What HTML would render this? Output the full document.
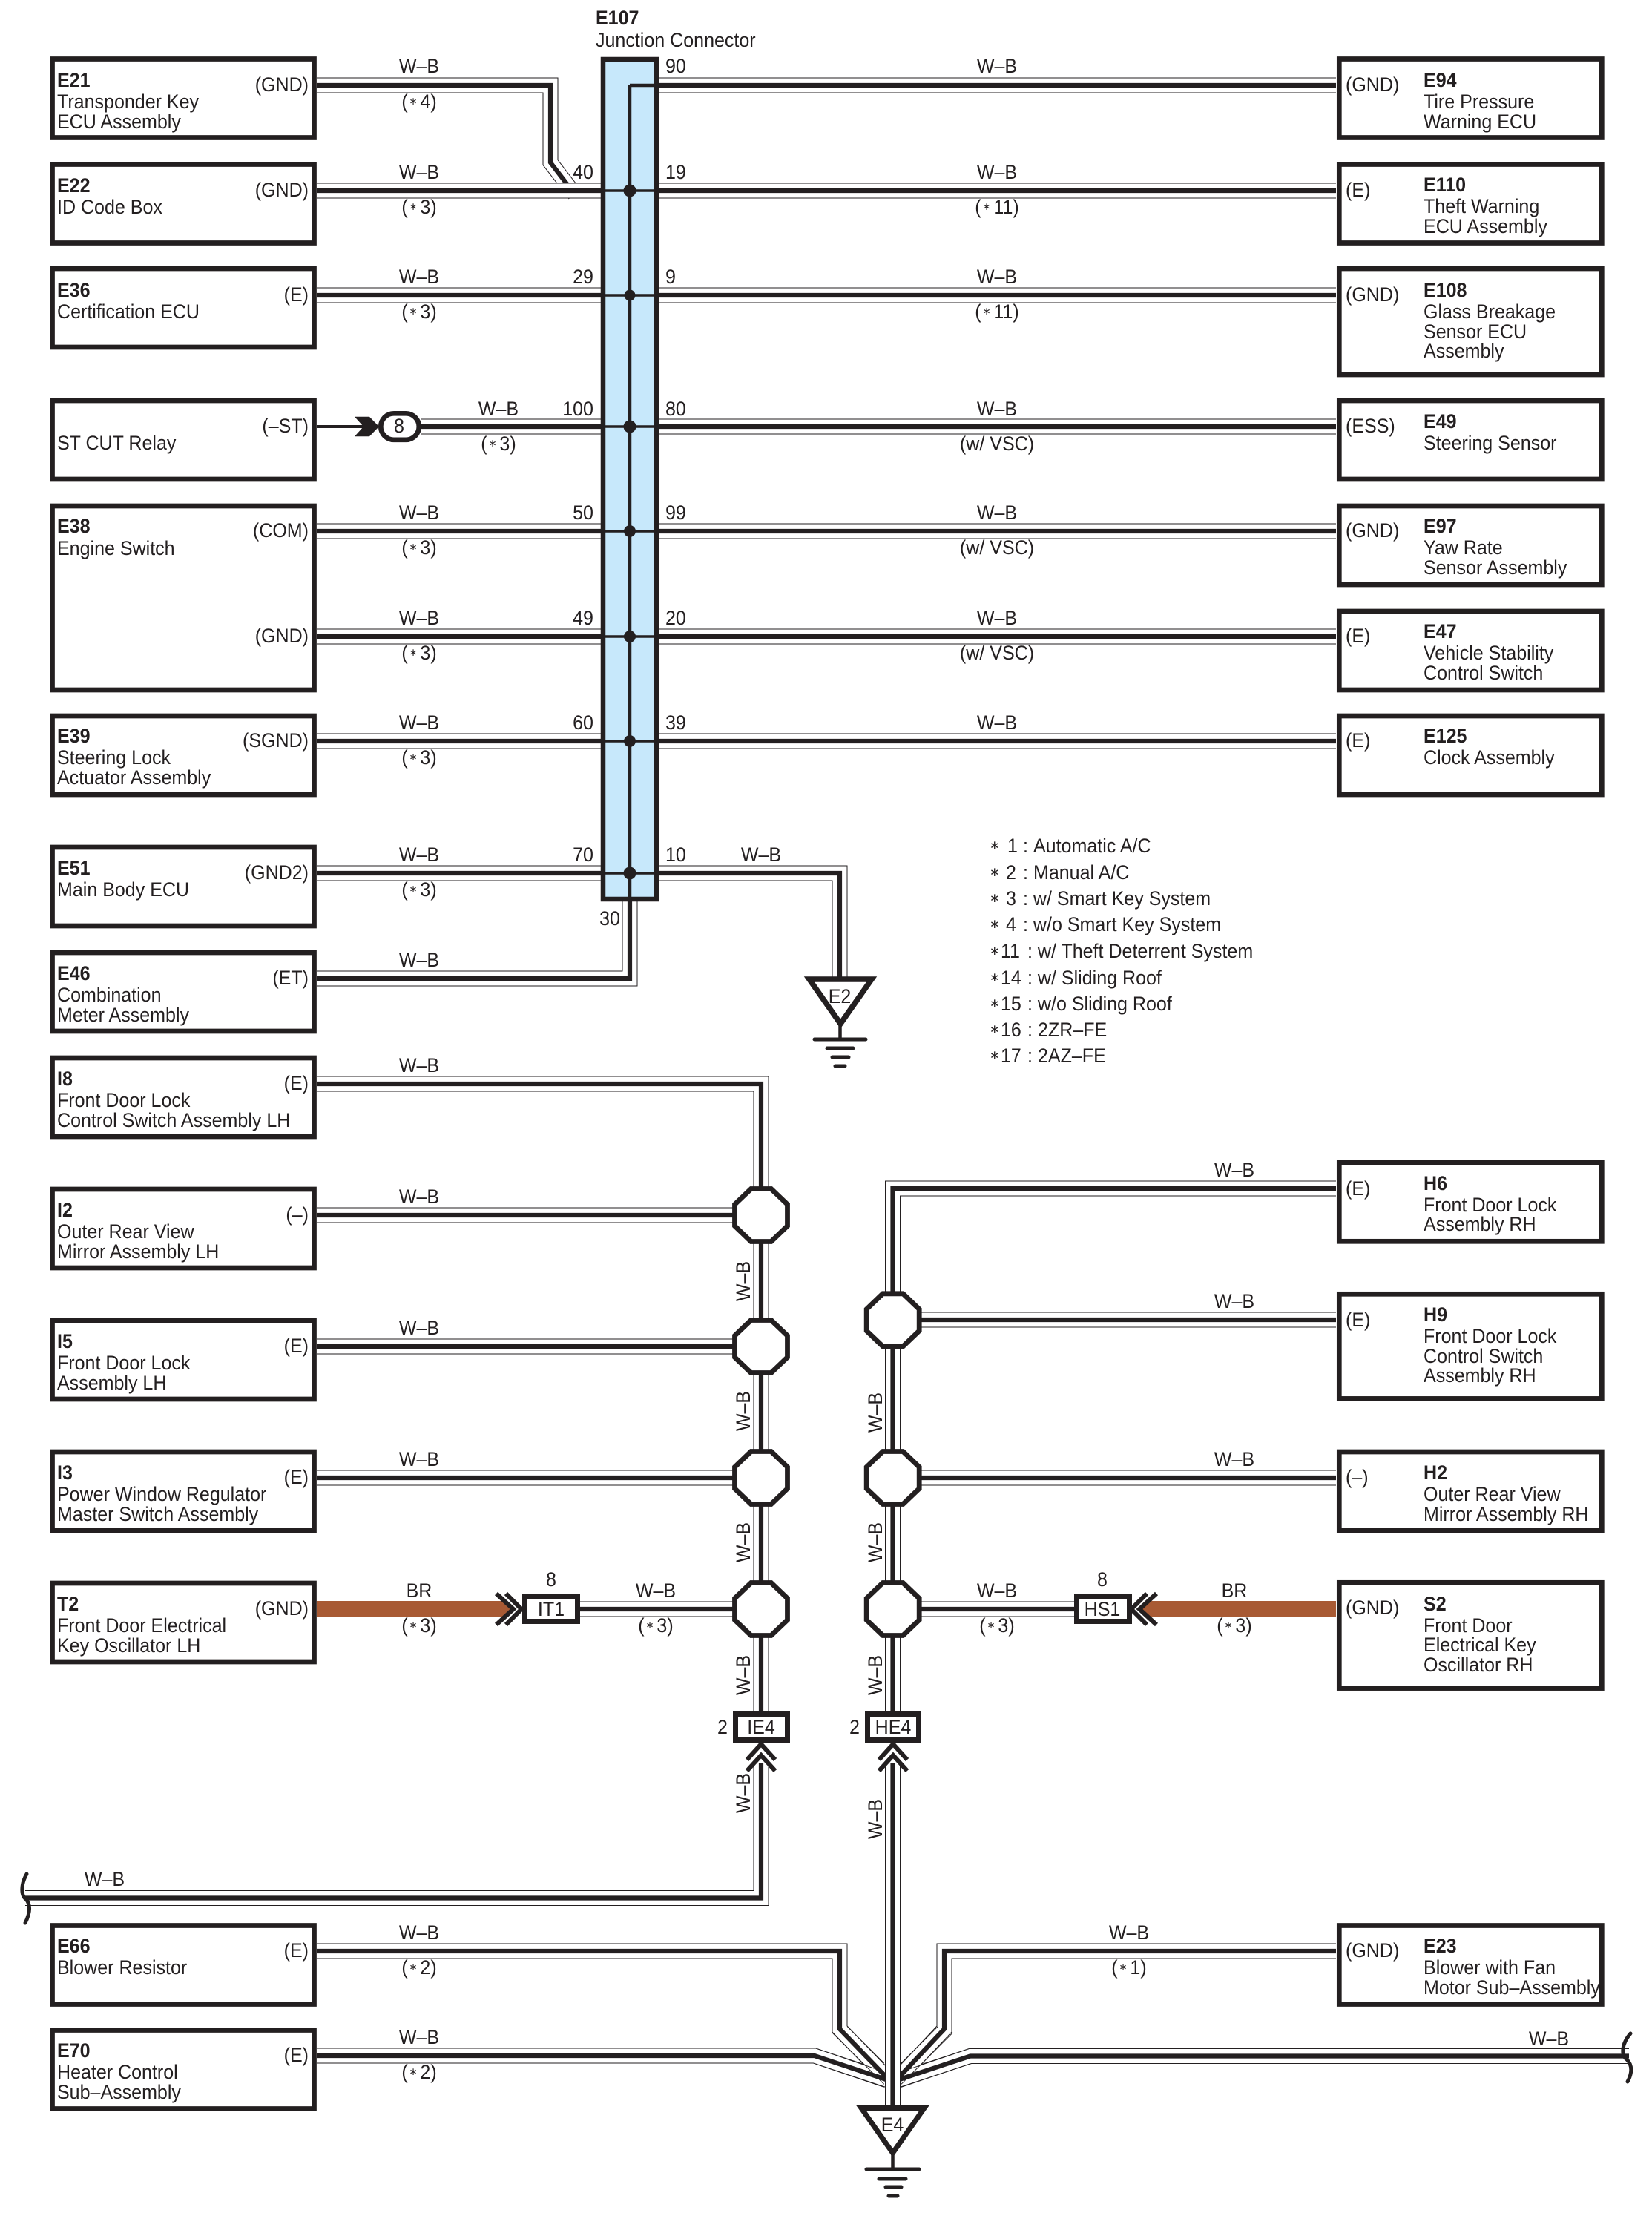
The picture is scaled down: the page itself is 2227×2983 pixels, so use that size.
<!DOCTYPE html>
<html><head><meta charset="utf-8"><title>E107 Junction Connector wiring diagram</title>
<style>
html,body{margin:0;padding:0;background:#fff}
svg{display:block}
text{font-family:"Liberation Sans",sans-serif;font-size:26.5px;fill:#231f20;transform-box:fill-box;transform:scaleX(.945);transform-origin:0 0}
.m{text-anchor:middle;transform-origin:50% 0}
.e{text-anchor:end;transform-origin:100% 0}
.b{font-weight:bold}
.a{font-size:14px;letter-spacing:4px;baseline-shift:5px}
.s{font-size:17px;baseline-shift:4px}
.o{fill:none;stroke:#231f20;stroke-width:21;stroke-linejoin:miter}
.w{fill:none;stroke:#fff;stroke-width:19;stroke-linejoin:miter}
.c{fill:none;stroke:#231f20;stroke-width:6.2;stroke-linejoin:miter}
.bx{fill:#fff;stroke:#231f20;stroke-width:6.7}
.l{fill:none;stroke:#231f20}
</style></head><body>
<svg xmlns="http://www.w3.org/2000/svg" width="2227" height="2983" viewBox="0 0 2227 2983">
<defs>
<path id="a" d="M427 115H742V219L775 262"/>
<path id="b" d="M427 257H810M427 398H810M568 575H810M427 716H810M427 858H810M427 999H810M427 1177H810M888 115H1801M888 257H1801M888 398H1801M888 575H1801M888 716H1801M888 858H1801M888 999H1801M888 1177H1132V1320M427 1319H849V1215M427 1461H1026V2307M427 1638H1026M427 1815H1026M427 1992H1026M782 2169H1026M1204 1779H1801M1204 1992H1801M1241 2169H1448M1026 2376V2558.5H34"/>
<path id="d" d="M427 2771H1098L1203.5 2806M2196 2771.5H1308L1203.5 2806"/>
<path id="f" d="M427 2630H1132V2735L1203.5 2809M1801 2630H1273V2735L1203.5 2809"/>
<path id="g" d="M1801 1602H1203.5V2307M1203.5 2376V2842"/>
<polygon id="oct" points="-13.6,-35.5 13.6,-35.5 35.5,-14.6 35.5,14.6 13.6,35.5 -13.6,35.5 -35.5,14.6 -35.5,-14.6"/>
</defs>

<!-- wires -->
<use href="#a" class="o"/><use href="#a" class="w"/><use href="#a" class="c"/>
<use href="#b" class="o"/><use href="#b" class="w"/><use href="#b" class="c"/>
<use href="#d" class="o"/><use href="#f" class="o"/><use href="#d" class="w"/><use href="#f" class="w"/>
<path class="l" stroke-width="1" d="M1142.3 2731.7L1191.7 2781M1122.7 2740.7L1191.7 2809.3M1101.7 2761.7L1191.7 2792.7M1098.3 2781.7L1191.7 2813.3M1264.3 2731.7L1215 2781M1284.3 2740L1215 2809.3M1306 2761.7L1215 2792.7M1308.3 2781.7L1215 2813.3"/>
<use href="#d" class="c"/><use href="#f" class="c"/>
<use href="#g" class="o"/><use href="#g" class="w"/><use href="#g" class="c"/>

<!-- brown wires -->
<polygon points="427,2158 682,2158 692,2169 682,2180 427,2180" fill="#a85a34"/>
<polygon points="1801,2158 1546,2158 1536,2169 1546,2180 1801,2180" fill="#a85a34"/>

<!-- junction connector -->
<rect x="813" y="80" width="72" height="1132" fill="#c7e8fb" stroke="#231f20" stroke-width="6.5"/>
<path class="l" stroke-width="4.5" d="M849 115V1215M849 115H888"/>
<path class="l" stroke-width="3.5" d="M810 257H888M810 398H888M810 575H888M810 716H888M810 858H888M810 999H888M810 1177H888"/>
<g fill="#231f20"><circle cx="849" cy="257" r="8.5"/><circle cx="849" cy="398" r="7.5"/><circle cx="849" cy="575" r="8.5"/><circle cx="849" cy="716" r="8"/><circle cx="849" cy="858" r="8"/><circle cx="849" cy="999" r="8"/><circle cx="849" cy="1177" r="8.5"/></g>

<!-- left boxes -->
<rect class="bx" x="70.5" y="79.5" width="353" height="106"/>
<rect class="bx" x="70.5" y="221.5" width="353" height="106"/>
<rect class="bx" x="70.5" y="362" width="353" height="106"/>
<rect class="bx" x="70.5" y="540" width="353" height="106"/>
<rect class="bx" x="70.5" y="682" width="353" height="248"/>
<rect class="bx" x="70.5" y="965" width="353" height="106"/>
<rect class="bx" x="70.5" y="1142" width="353" height="106"/>
<rect class="bx" x="70.5" y="1284" width="353" height="106"/>
<rect class="bx" x="70.5" y="1426" width="353" height="106"/>
<rect class="bx" x="70.5" y="1603" width="353" height="106"/>
<rect class="bx" x="70.5" y="1780" width="353" height="106"/>
<rect class="bx" x="70.5" y="1957" width="353" height="106"/>
<rect class="bx" x="70.5" y="2134" width="353" height="106"/>
<rect class="bx" x="70.5" y="2595.5" width="353" height="106"/>
<rect class="bx" x="70.5" y="2736.5" width="353" height="106"/>

<!-- right boxes -->
<rect class="bx" x="1805.3" y="79.5" width="354" height="106"/>
<rect class="bx" x="1805.3" y="221.5" width="354" height="106"/>
<rect class="bx" x="1805.3" y="362" width="354" height="143"/>
<rect class="bx" x="1805.3" y="540" width="354" height="106"/>
<rect class="bx" x="1805.3" y="682" width="354" height="106"/>
<rect class="bx" x="1805.3" y="824" width="354" height="106"/>
<rect class="bx" x="1805.3" y="965" width="354" height="106"/>
<rect class="bx" x="1805.3" y="1566.7" width="354" height="106.6"/>
<rect class="bx" x="1805.3" y="1744.3" width="354" height="141.1"/>
<rect class="bx" x="1805.3" y="1957" width="354" height="106"/>
<rect class="bx" x="1805.3" y="2133.3" width="354" height="142.3"/>
<rect class="bx" x="1805.3" y="2595.5" width="354" height="106"/>

<!-- ST CUT connector -->
<path class="l" stroke-width="4" d="M427 575H490"/>
<polygon points="478,561.7 498,561.7 511,575 498,588.3 478,588.3 490,575" fill="#231f20"/>
<rect x="513.3" y="557.3" width="51.5" height="35.5" rx="17.7" fill="#fff" stroke="#231f20" stroke-width="6.7"/>

<!-- octagons -->
<g fill="#fff" stroke="#231f20" stroke-width="6.8">
<use href="#oct" x="1026" y="1638"/><use href="#oct" x="1026" y="1815"/><use href="#oct" x="1026" y="1992"/><use href="#oct" x="1026" y="2169"/>
<use href="#oct" x="1203.7" y="1779.3"/><use href="#oct" x="1203.7" y="1992"/><use href="#oct" x="1203.7" y="2169"/>
</g>

<!-- small connectors -->
<g fill="#fff" stroke="#231f20" stroke-width="7">
<rect x="707.5" y="2151.5" width="71" height="34"/>
<rect x="1451.5" y="2151.5" width="71" height="34"/>
<rect x="991.5" y="2310.5" width="70" height="35"/>
<rect x="1169.5" y="2310.5" width="69" height="35"/>
</g>
<g class="l" stroke-width="6">
<polyline points="669,2148 692,2169 669,2190"/><polyline points="682,2148 703,2169 682,2190"/>
<polyline points="1559,2148 1536,2169 1559,2190"/><polyline points="1546,2148 1525,2169 1546,2190"/>
<polyline points="1007,2372 1026,2351 1045,2372"/><polyline points="1007,2387 1026,2366 1045,2387"/>
<polyline points="1185,2372 1204,2351 1223,2372"/><polyline points="1185,2387 1204,2366 1223,2387"/>
</g>

<!-- grounds -->
<polygon points="1091,1320 1175,1320 1133,1380" fill="#fff" stroke="#231f20" stroke-width="7.5"/>
<path class="l" stroke-width="4.5" d="M1132.5 1382V1401"/>
<g class="l" stroke-linecap="round" stroke-width="5"><path d="M1098 1401H1167M1115 1413H1150M1122 1425H1144M1126 1437H1139"/></g>
<polygon points="1161,2841.5 1246,2841.5 1203.5,2902" fill="#fff" stroke="#231f20" stroke-width="7"/>
<path class="l" stroke-width="4.5" d="M1203.5 2904V2924"/>
<g class="l" stroke-linecap="round" stroke-width="5"><path d="M1168 2924H1239M1185 2937H1221M1194 2948H1215M1198 2960H1210"/></g>

<!-- breaks -->
<path class="l" stroke-width="5" stroke-linecap="round" d="M36 2526C28 2540 28 2555 35 2560C42 2568 40 2580 34 2592"/>
<path class="l" stroke-width="5" stroke-linecap="round" d="M2198 2741C2186 2755 2185 2770 2193 2776C2202 2785 2199 2797 2194 2806"/>

<!-- header -->
<text class="b" x="803" y="33">E107</text>
<text x="803" y="63">Junction Connector</text>

<!-- left box text -->
<text class="b" x="77" y="117">E21</text><text x="77" y="146">Transponder Key</text><text x="77" y="173">ECU Assembly</text><text class="e" x="416" y="123">(GND)</text>
<text class="b" x="77" y="259">E22</text><text x="77" y="288">ID Code Box</text><text class="e" x="416" y="265">(GND)</text>
<text class="b" x="77" y="400">E36</text><text x="77" y="429">Certification ECU</text><text class="e" x="416" y="406">(E)</text>
<text x="77" y="606">ST CUT Relay</text><text class="e" x="416" y="583">(–ST)</text>
<text class="b" x="77" y="718">E38</text><text x="77" y="748">Engine Switch</text><text class="e" x="416" y="724">(COM)</text><text class="e" x="416" y="866">(GND)</text>
<text class="b" x="77" y="1001">E39</text><text x="77" y="1030">Steering Lock</text><text x="77" y="1057">Actuator Assembly</text><text class="e" x="416" y="1007">(SGND)</text>
<text class="b" x="77" y="1179">E51</text><text x="77" y="1208">Main Body ECU</text><text class="e" x="416" y="1185">(GND2)</text>
<text class="b" x="77" y="1321">E46</text><text x="77" y="1350">Combination</text><text x="77" y="1377">Meter Assembly</text><text class="e" x="416" y="1327">(ET)</text>
<text class="b" x="77" y="1463">I8</text><text x="77" y="1492">Front Door Lock</text><text x="77" y="1519">Control Switch Assembly LH</text><text class="e" x="416" y="1469">(E)</text>
<text class="b" x="77" y="1640">I2</text><text x="77" y="1669">Outer Rear View</text><text x="77" y="1696">Mirror Assembly LH</text><text class="e" x="416" y="1646">(–)</text>
<text class="b" x="77" y="1817">I5</text><text x="77" y="1846">Front Door Lock</text><text x="77" y="1873">Assembly LH</text><text class="e" x="416" y="1823">(E)</text>
<text class="b" x="77" y="1994">I3</text><text x="77" y="2023">Power Window Regulator</text><text x="77" y="2050">Master Switch Assembly</text><text class="e" x="416" y="2000">(E)</text>
<text class="b" x="77" y="2171">T2</text><text x="77" y="2200">Front Door Electrical</text><text x="77" y="2227">Key Oscillator LH</text><text class="e" x="416" y="2177">(GND)</text>
<text class="b" x="77" y="2632">E66</text><text x="77" y="2661">Blower Resistor</text><text class="e" x="416" y="2638">(E)</text>
<text class="b" x="77" y="2773">E70</text><text x="77" y="2802">Heater Control</text><text x="77" y="2829">Sub–Assembly</text><text class="e" x="416" y="2779">(E)</text>

<!-- right box text -->
<text x="1814" y="123">(GND)</text><text class="b" x="1919" y="117">E94</text><text x="1919" y="146">Tire Pressure</text><text x="1919" y="173">Warning ECU</text>
<text x="1814" y="265">(E)</text><text class="b" x="1919" y="258">E110</text><text x="1919" y="287">Theft Warning</text><text x="1919" y="314">ECU Assembly</text>
<text x="1814" y="406">(GND)</text><text class="b" x="1919" y="400">E108</text><text x="1919" y="429">Glass Breakage</text><text x="1919" y="456">Sensor ECU</text><text x="1919" y="482">Assembly</text>
<text x="1814" y="583">(ESS)</text><text class="b" x="1919" y="577">E49</text><text x="1919" y="606">Steering Sensor</text>
<text x="1814" y="724">(GND)</text><text class="b" x="1919" y="718">E97</text><text x="1919" y="747">Yaw Rate</text><text x="1919" y="774">Sensor Assembly</text>
<text x="1814" y="866">(E)</text><text class="b" x="1919" y="860">E47</text><text x="1919" y="889">Vehicle Stability</text><text x="1919" y="916">Control Switch</text>
<text x="1814" y="1007">(E)</text><text class="b" x="1919" y="1001">E125</text><text x="1919" y="1030">Clock Assembly</text>
<text x="1814" y="1611">(E)</text><text class="b" x="1919" y="1604">H6</text><text x="1919" y="1633">Front Door Lock</text><text x="1919" y="1659">Assembly RH</text>
<text x="1814" y="1788">(E)</text><text class="b" x="1919" y="1781">H9</text><text x="1919" y="1810">Front Door Lock</text><text x="1919" y="1837">Control Switch</text><text x="1919" y="1863">Assembly RH</text>
<text x="1814" y="2000">(–)</text><text class="b" x="1919" y="1994">H2</text><text x="1919" y="2023">Outer Rear View</text><text x="1919" y="2050">Mirror Assembly RH</text>
<text x="1814" y="2176">(GND)</text><text class="b" x="1919" y="2171">S2</text><text x="1919" y="2200">Front Door</text><text x="1919" y="2226">Electrical Key</text><text x="1919" y="2253">Oscillator RH</text>
<text x="1814" y="2638">(GND)</text><text class="b" x="1919" y="2632">E23</text><text x="1919" y="2661">Blower with Fan</text><text x="1919" y="2688">Motor Sub–Assembly</text>

<!-- left wire labels -->
<text class="m" x="565" y="98">W–B</text><text class="m" x="565" y="146">(<tspan class="a" dx="2">∗</tspan>4)</text>
<text class="m" x="565" y="241">W–B</text><text class="m" x="565" y="288">(<tspan class="a" dx="2">∗</tspan>3)</text>
<text class="m" x="565" y="382">W–B</text><text class="m" x="565" y="429">(<tspan class="a" dx="2">∗</tspan>3)</text>
<text class="m" x="672" y="560">W–B</text><text class="m" x="672" y="607">(<tspan class="a" dx="2">∗</tspan>3)</text>
<text class="m" x="565" y="700">W–B</text><text class="m" x="565" y="747">(<tspan class="a" dx="2">∗</tspan>3)</text>
<text class="m" x="565" y="842">W–B</text><text class="m" x="565" y="889">(<tspan class="a" dx="2">∗</tspan>3)</text>
<text class="m" x="565" y="983">W–B</text><text class="m" x="565" y="1030">(<tspan class="a" dx="2">∗</tspan>3)</text>
<text class="m" x="565" y="1161">W–B</text><text class="m" x="565" y="1208">(<tspan class="a" dx="2">∗</tspan>3)</text>
<text class="m" x="565" y="1303">W–B</text>
<text class="m" x="565" y="1445">W–B</text>
<text class="m" x="565" y="1622">W–B</text>
<text class="m" x="565" y="1799">W–B</text>
<text class="m" x="565" y="1976">W–B</text>
<text class="m" x="565" y="2153">BR</text><text class="m" x="565" y="2200">(<tspan class="a" dx="2">∗</tspan>3)</text>
<text class="m" x="884" y="2153">W–B</text><text class="m" x="884" y="2200">(<tspan class="a" dx="2">∗</tspan>3)</text>
<text class="m" x="141" y="2542">W–B</text>
<text class="m" x="565" y="2614">W–B</text><text class="m" x="565" y="2661">(<tspan class="a" dx="2">∗</tspan>2)</text>
<text class="m" x="565" y="2755">W–B</text><text class="m" x="565" y="2802">(<tspan class="a" dx="2">∗</tspan>2)</text>

<!-- right wire labels -->
<text class="m" x="1344" y="98">W–B</text>
<text class="m" x="1344" y="241">W–B</text><text class="m" x="1344" y="288">(<tspan class="a" dx="2">∗</tspan>11)</text>
<text class="m" x="1344" y="382">W–B</text><text class="m" x="1344" y="429">(<tspan class="a" dx="2">∗</tspan>11)</text>
<text class="m" x="1344" y="560">W–B</text><text class="m" x="1344" y="607">(w/ VSC)</text>
<text class="m" x="1344" y="700">W–B</text><text class="m" x="1344" y="747">(w/ VSC)</text>
<text class="m" x="1344" y="842">W–B</text><text class="m" x="1344" y="889">(w/ VSC)</text>
<text class="m" x="1344" y="983">W–B</text>
<text class="m" x="1026" y="1161">W–B</text>
<text class="m" x="1664" y="1586">W–B</text>
<text class="m" x="1664" y="1763">W–B</text>
<text class="m" x="1664" y="1976">W–B</text>
<text class="m" x="1344" y="2153">W–B</text><text class="m" x="1344" y="2200">(<tspan class="a" dx="2">∗</tspan>3)</text>
<text class="m" x="1664" y="2153">BR</text><text class="m" x="1664" y="2200">(<tspan class="a" dx="2">∗</tspan>3)</text>
<text class="m" x="1522" y="2614">W–B</text><text class="m" x="1522" y="2661">(<tspan class="a" dx="2">∗</tspan>1)</text>
<text class="m" x="2088" y="2757">W–B</text>

<!-- pin numbers -->
<text class="e" x="800" y="241">40</text><text class="e" x="800" y="382">29</text><text class="e" x="800" y="560">100</text><text class="e" x="800" y="700">50</text><text class="e" x="800" y="842">49</text><text class="e" x="800" y="983">60</text><text class="e" x="800" y="1161">70</text><text class="e" x="836" y="1247">30</text>
<text x="897" y="98">90</text><text x="897" y="241">19</text><text x="897" y="382">9</text><text x="897" y="560">80</text><text x="897" y="700">99</text><text x="897" y="842">20</text><text x="897" y="983">39</text><text x="897" y="1161">10</text>

<!-- connector labels -->
<text class="m" x="538" y="583">8</text>
<text class="m" x="743" y="2138">8</text><text class="m" x="743" y="2178">IT1</text>
<text class="m" x="1486" y="2138">8</text><text class="m" x="1486" y="2178">HS1</text>
<text class="m" x="1026" y="2337">IE4</text><text class="e" x="981" y="2337">2</text>
<text class="m" x="1204" y="2337">HE4</text><text class="e" x="1159" y="2337">2</text>
<text class="m" x="1132" y="1352">E2</text>
<text class="m" x="1203" y="2873">E4</text>

<!-- rotated labels -->
<g transform="translate(1011,1727) rotate(-90)"><text class="m">W–B</text></g>
<g transform="translate(1011,1902) rotate(-90)"><text class="m">W–B</text></g>
<g transform="translate(1011,2079) rotate(-90)"><text class="m">W–B</text></g>
<g transform="translate(1011,2258) rotate(-90)"><text class="m">W–B</text></g>
<g transform="translate(1011,2417) rotate(-90)"><text class="m">W–B</text></g>
<g transform="translate(1189,1904) rotate(-90)"><text class="m">W–B</text></g>
<g transform="translate(1189,2079) rotate(-90)"><text class="m">W–B</text></g>
<g transform="translate(1189,2258) rotate(-90)"><text class="m">W–B</text></g>
<g transform="translate(1189,2452) rotate(-90)"><text class="m">W–B</text></g>

<!-- legend -->
<text x="1334" y="1149"><tspan class="s">∗</tspan></text><text x="1358" y="1149">1</text><text x="1379" y="1149">:</text><text x="1393" y="1149">Automatic A/C</text>
<text x="1334" y="1185"><tspan class="s">∗</tspan></text><text x="1356" y="1185">2</text><text x="1379" y="1185">:</text><text x="1393" y="1185">Manual A/C</text>
<text x="1334" y="1220"><tspan class="s">∗</tspan></text><text x="1356" y="1220">3</text><text x="1379" y="1220">:</text><text x="1393" y="1220">w/ Smart Key System</text>
<text x="1334" y="1255"><tspan class="s">∗</tspan></text><text x="1356" y="1255">4</text><text x="1379" y="1255">:</text><text x="1393" y="1255">w/o Smart Key System</text>
<text x="1334" y="1291"><tspan class="s">∗</tspan></text><text x="1349" y="1291">11</text><text x="1385" y="1291">:</text><text x="1399" y="1291">w/ Theft Deterrent System</text>
<text x="1334" y="1327"><tspan class="s">∗</tspan></text><text x="1349" y="1327">14</text><text x="1385" y="1327">:</text><text x="1399" y="1327">w/ Sliding Roof</text>
<text x="1334" y="1362"><tspan class="s">∗</tspan></text><text x="1349" y="1362">15</text><text x="1385" y="1362">:</text><text x="1399" y="1362">w/o Sliding Roof</text>
<text x="1334" y="1397"><tspan class="s">∗</tspan></text><text x="1349" y="1397">16</text><text x="1385" y="1397">:</text><text x="1399" y="1397">2ZR–FE</text>
<text x="1334" y="1432"><tspan class="s">∗</tspan></text><text x="1349" y="1432">17</text><text x="1385" y="1432">:</text><text x="1399" y="1432">2AZ–FE</text>
</svg>
</body></html>
